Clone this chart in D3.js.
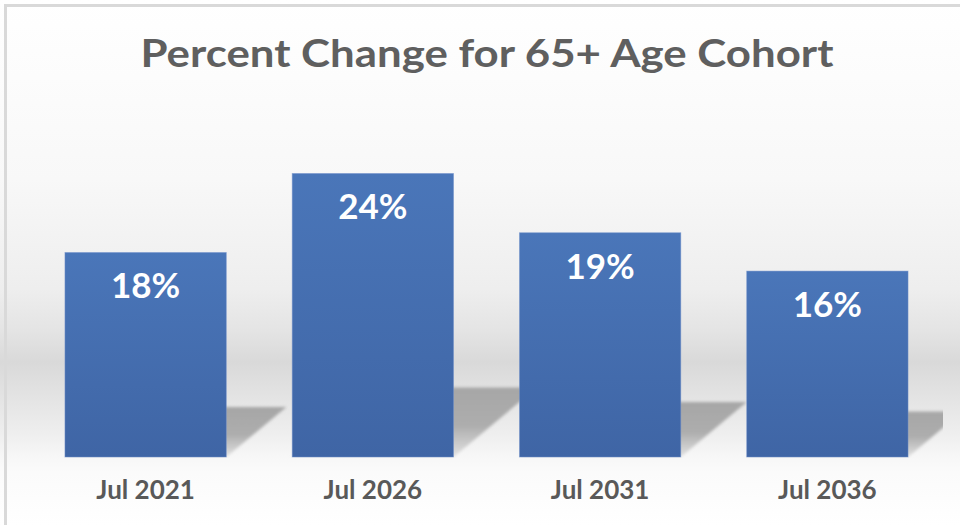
<!DOCTYPE html>
<html>
<head>
<meta charset="utf-8">
<script src="https://cdn.jsdelivr.net/npm/d3@7"></script>
<style>
  html, body { margin: 0; padding: 0; background: #ffffff; }
  svg { display: block; }
</style>
</head>
<body>
<svg id="chart" width="960" height="525"></svg>
<script>
// ---- data ----
const categories = ["Jul 2021", "Jul 2026", "Jul 2031", "Jul 2036"];
const values = [0.176, 0.244, 0.193, 0.160];
const title = "Percent Change for 65+ Age Cohort";

// ---- setup ----
const W = 960, H = 525;
const svg = d3.select("#chart");
const defs = svg.append("defs");

// background gradient
const bg = defs.append("linearGradient").attr("id", "bgGrad")
  .attr("x1", 0).attr("y1", 0).attr("x2", 0).attr("y2", 1);
[[0, "#ffffff"], [0.34, "#f8f8f8"], [0.55, "#eeeeee"], [0.63, "#e4e4e4"], [0.69, "#d9d9d9"],
 [0.76, "#e4e4e4"], [0.83, "#efefef"], [0.87, "#f7f7f7"], [0.9, "#fbfbfb"], [1, "#ffffff"]]
  .forEach(([o, c]) => bg.append("stop").attr("offset", o).attr("stop-color", c));

// bar gradient
const bgBar = defs.append("linearGradient").attr("id", "barGrad")
  .attr("x1", 0).attr("y1", 0).attr("x2", 0).attr("y2", 1);
bgBar.append("stop").attr("offset", 0).attr("stop-color", "#4a76b9");
bgBar.append("stop").attr("offset", 1).attr("stop-color", "#3f65a5");

// shadow gradient
const sg = defs.append("linearGradient").attr("id", "shGrad")
  .attr("x1", 0).attr("y1", 0).attr("x2", 0).attr("y2", 1);
sg.append("stop").attr("offset", 0).attr("stop-color", "#a6a6a6");
sg.append("stop").attr("offset", 0.55).attr("stop-color", "#adadad");
sg.append("stop").attr("offset", 1).attr("stop-color", "#e2e2e2");

const blur = defs.append("filter").attr("id", "shBlur")
  .attr("x", "-20%").attr("y", "-20%").attr("width", "140%").attr("height", "140%");
blur.append("feGaussianBlur").attr("stdDeviation", 1.8);

defs.append("clipPath").attr("id", "plotClip")
  .append("rect").attr("x", 8).attr("y", 0).attr("width", 935).attr("height", 458);

// background
svg.append("rect").attr("x", 0).attr("y", 0).attr("width", W).attr("height", H)
  .attr("fill", "url(#bgGrad)");

// frame (left + top)
svg.append("path").attr("d", "M5.5,525 V5.5 H960")
  .attr("fill", "none").attr("stroke", "#d9d9d9").attr("stroke-width", 3);

// ---- scales ----
const x = d3.scaleBand().domain(categories).range([32, 941]).paddingInner(0.29).paddingOuter(0.145);
const y = d3.scaleLinear().domain([0, 0.30]).range([457, 108.4]);

const data = categories.map((c, i) => ({ cat: c, v: values[i] }));

// ---- shadows ----
const gShadow = svg.append("g").attr("clip-path", "url(#plotClip)");
gShadow.selectAll("path").data(data).join("path")
  .attr("d", d => {
    const x0 = x(d.cat), x1 = x0 + x.bandwidth();
    const h = y(0) - y(d.v);
    const sh = 0.245 * h, dx = 1.2 * sh;
    return `M${x0},${y(0)} L${x1},${y(0)} L${x1 + dx},${y(0) - sh} L${x0 + dx},${y(0) - sh} Z`;
  })
  .attr("fill", "url(#shGrad)")
  .attr("filter", "url(#shBlur)");

// ---- bars ----
svg.append("g").selectAll("rect").data(data).join("rect")
  .attr("x", d => x(d.cat))
  .attr("y", d => y(d.v))
  .attr("width", x.bandwidth())
  .attr("height", d => y(0) - y(d.v))
  .attr("fill", "url(#barGrad)")
  .attr("stroke", "#7393cc")
  .attr("stroke-width", 0.8)
  .attr("stroke-opacity", 0.6);

// ---- value labels ----
const fmt = d3.format(".0%");
svg.append("g").selectAll("text").data(data).join("text")
  .attr("x", d => x(d.cat) + x.bandwidth() / 2)
  .attr("y", d => y(d.v) + 46)
  .attr("text-anchor", "middle")
  .attr("font-family", "Lato, 'Open Sans', sans-serif")
  .attr("font-weight", "bold")
  .attr("font-size", 35)
  .attr("fill", "#ffffff")
  .text(d => fmt(d.v));

// ---- x axis labels ----
const xAxis = d3.axisBottom(x).tickSize(0).tickPadding(0);
const gx = svg.append("g").attr("transform", "translate(0,457)").call(xAxis);
gx.select(".domain").remove();
gx.selectAll("text")
  .attr("y", 42)
  .attr("dy", 0)
  .attr("font-family", "Lato, 'Open Sans', sans-serif")
  .attr("font-weight", "bold")
  .attr("font-size", 26)
  .attr("fill", "#595959");

// ---- title ----
svg.append("text")
  .attr("x", 487)
  .attr("y", 67)
  .attr("text-anchor", "middle")
  .attr("font-family", "Lato, 'Open Sans', sans-serif")
  .attr("font-weight", "bold")
  .attr("font-size", 38)
  .attr("fill", "#5f5f5f")
  .attr("textLength", 693)
  .attr("lengthAdjust", "spacingAndGlyphs")
  .text(title);
</script>
</body>
</html>
